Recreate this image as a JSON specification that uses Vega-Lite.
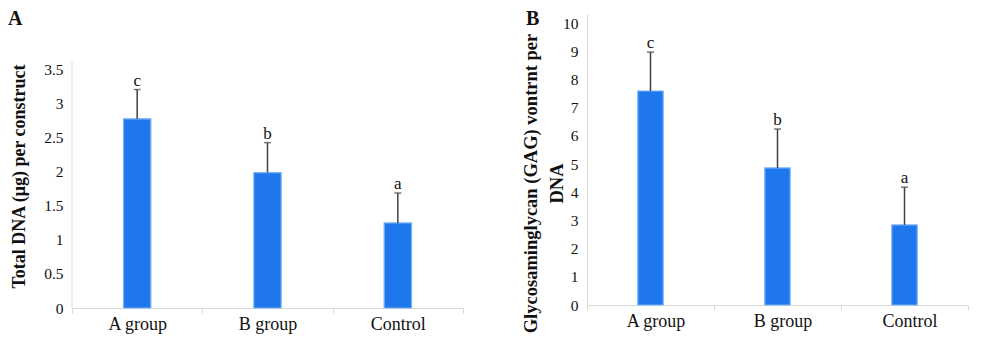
{
  "$schema": "https://vega.github.io/schema/vega-lite/v6.json",
  "background": "white",
  "padding": {"left": 8, "top": 9, "right": 5, "bottom": 5},
  "bounds": "flush",
  "spacing": 124,
  "config": {
    "font": "Liberation Serif",
    "view": {"stroke": null},
    "axis": {"grid": false, "labelColor": "#111", "titleColor": "#111", "titleFont": "Liberation Serif", "labelFont": "Liberation Serif"},
    "axisX": {"labelAngle": 0, "domainColor": "#d9d9d9", "tickColor": "#d9d9d9", "tickSize": 5, "tickBand": "extent", "labelFontSize": 18, "labelPadding": 2, "title": null},
    "axisY": {"ticks": false, "labelFontSize": 15.5, "labelPadding": 9, "labelOverlap": false, "labelSeparation": 0, "domainColor": "#d9d9d9", "titleFontSize": 17, "titleFontWeight": "bold", "titleAngle": -90, "titleBaseline": "bottom", "titleAlign": "center"},
    "title": {"font": "Liberation Serif", "fontSize": 20, "fontWeight": "bold", "anchor": "start", "frame": "group", "baseline": "alphabetic", "offset": 0, "color": "#111"}
  },
  "datasets": {
    "dna": [
      {"group": "A group", "value": 2.78, "upper": 3.21, "letter": "c"},
      {"group": "B group", "value": 1.99, "upper": 2.43, "letter": "b"},
      {"group": "Control", "value": 1.25, "upper": 1.69, "letter": "a"}
    ],
    "gag": [
      {"group": "A group", "value": 7.59, "upper": 8.97, "letter": "c"},
      {"group": "B group", "value": 4.86, "upper": 6.24, "letter": "b"},
      {"group": "Control", "value": 2.84, "upper": 4.18, "letter": "a"}
    ]
  },
  "hconcat": [
    {
      "width": 391,
      "height": 294,
      "title": {"text": "A", "dx": -64, "dy": 19},
      "data": {"name": "dna"},
      "encoding": {
        "x": {"field": "group", "type": "nominal", "sort": null, "scale": {"paddingInner": 0, "paddingOuter": 0},
          "axis": {"labelFont": "Liberation Serif", "labelFontSize": 18}}
      },
      "layer": [
        {
          "mark": {"type": "bar", "width": {"band": 0.21}, "fill": "#1f77ee", "stroke": "#7ab3f5", "strokeWidth": 1.2},
          "encoding": {
            "y": {"field": "value", "type": "quantitative", "scale": {"domain": [0, 4.32], "nice": false},
              "axis": {"values": [0, 0.5, 1, 1.5, 2, 2.5, 3, 3.5], "format": "~r", "labelFont": "Liberation Serif", "labelOverlap": false, "domain": false, "title": "Total DNA (μg) per construct", "titleFontSize": 18, "titleX": -44, "titleY": 162}}
          }
        },
        {
          "mark": {"type": "rule", "color": "#404040", "strokeWidth": 1.5},
          "encoding": {"y": {"field": "value", "type": "quantitative"}, "y2": {"field": "upper"}}
        },
        {
          "mark": {"type": "tick", "color": "#404040", "size": 7, "thickness": 1.5},
          "encoding": {"y": {"field": "upper", "type": "quantitative"}}
        },
        {
          "mark": {"type": "text", "fontSize": 17, "baseline": "alphabetic", "dy": -4, "color": "#111"},
          "encoding": {"y": {"field": "upper", "type": "quantitative"}, "text": {"field": "letter"}}
        },
        {
          "data": {"values": [{}]},
          "mark": {"type": "rule", "color": "#d9d9d9", "strokeWidth": 1},
          "encoding": {
            "x": {"datum": "A group", "bandPosition": 0},
            "y": {"datum": 0, "type": "quantitative"},
            "y2": {"datum": 3.62}
          }
        }
      ]
    },
    {
      "width": 381,
      "height": 291,
      "title": {"text": "B", "dx": -61, "dy": 19},
      "data": {"name": "gag"},
      "encoding": {
        "x": {"field": "group", "type": "nominal", "sort": null, "scale": {"paddingInner": 0, "paddingOuter": 0},
          "axis": {"labelFont": "Liberation Serif", "labelFontSize": 18, "labelOffset": 5}}
      },
      "layer": [
        {
          "mark": {"type": "bar", "width": {"band": 0.2}, "fill": "#1f77ee", "stroke": "#7ab3f5", "strokeWidth": 1.2},
          "encoding": {
            "y": {"field": "value", "type": "quantitative", "scale": {"domain": [0, 10.32], "nice": false},
              "axis": {"values": [0, 1, 2, 3, 4, 5, 6, 7, 8, 9, 10], "tickCount": 11, "format": "d", "labelFont": "Liberation Serif", "labelOverlap": false, "title": ["Glycosaminglycan (GAG) vontrnt per", "DNA"], "titleFontSize": 18.5, "titleLineHeight": 26, "titleX": -47, "titleY": 169}}
          }
        },
        {
          "mark": {"type": "rule", "color": "#404040", "strokeWidth": 1.5},
          "encoding": {"y": {"field": "value", "type": "quantitative"}, "y2": {"field": "upper"}}
        },
        {
          "mark": {"type": "tick", "color": "#404040", "size": 7, "thickness": 1.5},
          "encoding": {"y": {"field": "upper", "type": "quantitative"}}
        },
        {
          "mark": {"type": "text", "fontSize": 17, "baseline": "alphabetic", "dy": -4, "color": "#111"},
          "encoding": {"y": {"field": "upper", "type": "quantitative"}, "text": {"field": "letter"}}
        }
      ]
    }
  ]
}
